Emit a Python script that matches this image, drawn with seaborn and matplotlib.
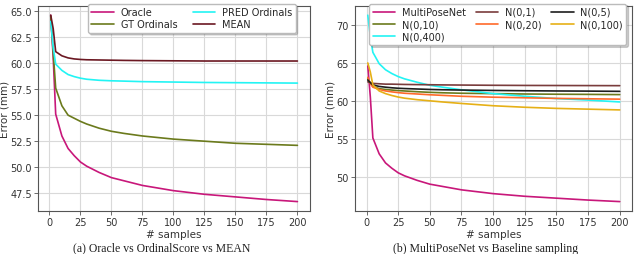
import matplotlib
matplotlib.use("Agg")
import matplotlib.pyplot as plt
import seaborn as sns
import numpy as np

# x positions (number of samples)
samples = [1, 3, 5, 10, 15, 20, 25, 30, 40, 50, 60, 75, 100, 125, 150, 175, 200]

# Panel (a)
oracle      = [64.6, 60.5, 55.1, 53.0, 51.8, 51.1, 50.5, 50.1, 49.5, 49.0, 48.7, 48.25, 47.75, 47.4, 47.15, 46.9, 46.7]
gt_ordinals = [64.5, 61.0, 57.6, 55.9, 55.0, 54.7, 54.4, 54.15, 53.75, 53.45, 53.25, 53.0, 52.7, 52.5, 52.3, 52.2, 52.1]
pred_ord    = [64.0, 61.5, 59.9, 59.3, 58.9, 58.7, 58.55, 58.45, 58.35, 58.3, 58.27, 58.22, 58.18, 58.14, 58.12, 58.1, 58.08]
mean_       = [64.6, 63.3, 61.1, 60.7, 60.5, 60.4, 60.35, 60.32, 60.3, 60.28, 60.26, 60.24, 60.22, 60.2, 60.2, 60.2, 60.2]

# Panel (b)
multipose = oracle
n_1   = [62.5, 62.4, 62.3, 62.25, 62.2, 62.2, 62.18, 62.16, 62.14, 62.12, 62.1, 62.08, 62.05, 62.03, 62.02, 62.01, 62.0]
n_5   = [62.75, 62.4, 62.1, 61.9, 61.8, 61.72, 61.66, 61.62, 61.56, 61.5, 61.46, 61.42, 61.37, 61.33, 61.3, 61.28, 61.25]
n_10  = [62.9, 62.3, 61.9, 61.6, 61.5, 61.42, 61.35, 61.3, 61.2, 61.12, 61.06, 61.0, 60.95, 60.9, 60.87, 60.85, 60.82]
n_20  = [63.1, 62.3, 61.8, 61.5, 61.3, 61.18, 61.08, 61.0, 60.9, 60.8, 60.72, 60.6, 60.48, 60.4, 60.32, 60.27, 60.22]
n_100 = [65.0, 63.8, 62.1, 61.3, 60.95, 60.7, 60.5, 60.35, 60.15, 60.0, 59.85, 59.65, 59.35, 59.15, 59.0, 58.9, 58.8]
n_400 = [71.3, 68.5, 66.4, 64.9, 64.1, 63.6, 63.2, 62.9, 62.45, 62.05, 61.8, 61.45, 60.95, 60.6, 60.3, 60.1, 59.85]

labels_a = ["Oracle", "GT Ordinals", "PRED Ordinals", "MEAN"]
labels_b = ["MultiPoseNet", "N(0,10)", "N(0,400)", "N(0,1)", "N(0,20)", "N(0,5)", "N(0,100)"]
yticks_a = [47.5, 50.0, 52.5, 55.0, 57.5, 60.0, 62.5, 65.0]
yticks_b = [50, 55, 60, 65, 70]
xticks = [0, 25, 50, 75, 100, 125, 150, 175, 200]
caption_a = "(a) Oracle vs OrdinalScore vs MEAN"
caption_b = "(b) MultiPoseNet vs Baseline sampling"

C_MAG = "#c8177a"
C_OLIVE = "#6b7a1c"
C_CYAN = "#22f4f4"
C_MAROON = "#6b1822"
C_BROWN = "#7a3c3c"
C_BLACK = "#1e1e1e"
C_ORANGE = "#ff6a2a"
C_GOLD = "#e6b016"

sns.set_style("whitegrid", {
    "axes.edgecolor": "#555555",
    "grid.color": "#d9d9d9",
    "xtick.bottom": True,
    "ytick.left": True,
    "xtick.color": "#333333",
    "ytick.color": "#333333",
})
plt.rcParams["font.family"] = ["DejaVu Sans"]

fig = plt.figure(figsize=(6.4, 2.55), dpi=100)
ax1 = fig.add_axes([0.060, 0.169, 0.424, 0.804])
ax2 = fig.add_axes([0.555, 0.169, 0.433, 0.804])

lw = 1.2
series_a = [(oracle, C_MAG), (gt_ordinals, C_OLIVE), (pred_ord, C_CYAN), (mean_, C_MAROON)]
for (vals, col), lab in zip(series_a, labels_a):
    sns.lineplot(x=samples, y=vals, ax=ax1, color=col, lw=lw, label=lab)

series_b = [(multipose, C_MAG), (n_10, C_OLIVE), (n_400, C_CYAN), (n_1, C_BROWN),
            (n_20, C_ORANGE), (n_5, C_BLACK), (n_100, C_GOLD)]
for (vals, col), lab in zip(series_b, labels_b):
    sns.lineplot(x=samples, y=vals, ax=ax2, color=col, lw=lw, label=lab)

for ax in (ax1, ax2):
    ax.set_xticks(xticks)
    ax.set_xlabel("# samples", fontsize=7.5, color="#333333", labelpad=1)
    ax.set_ylabel("Error (mm)", fontsize=7.5, color="#333333", labelpad=1)
    ax.tick_params(labelsize=7, length=3, width=0.6, pad=1.5, color="#555555")
    for s in ax.spines.values():
        s.set_linewidth(0.8)
    ax.grid(True, lw=0.8)

ax1.set_yticks(yticks_a)
ax1.set_yticklabels([f"{v:.1f}" for v in yticks_a])
ax2.set_yticks(yticks_b)

leg_kw = dict(fontsize=7, frameon=True, fancybox=True, framealpha=1.0, edgecolor="#bbbbbb",
              handlelength=2.3, handletextpad=0.7, borderpad=0.35, labelspacing=0.25,
              shadow={"alpha": 0.25, "ox": 1.5, "oy": -1.5})
ax1.legend(loc="upper center", bbox_to_anchor=(0.565, 1.035), ncol=2, columnspacing=1.6, **leg_kw)
ax2.legend(loc="upper center", bbox_to_anchor=(0.515, 1.035), ncol=3, columnspacing=1.0, **leg_kw)

fig.text(0.252, 0.048, caption_a, ha="center", va="top", fontsize=8.5,
         family=["Liberation Serif", "DejaVu Serif"], color="#222222")
fig.text(0.758, 0.048, caption_b, ha="center", va="top", fontsize=8.5,
         family=["Liberation Serif", "DejaVu Serif"], color="#222222")

fig.savefig("out.png", dpi=100)
